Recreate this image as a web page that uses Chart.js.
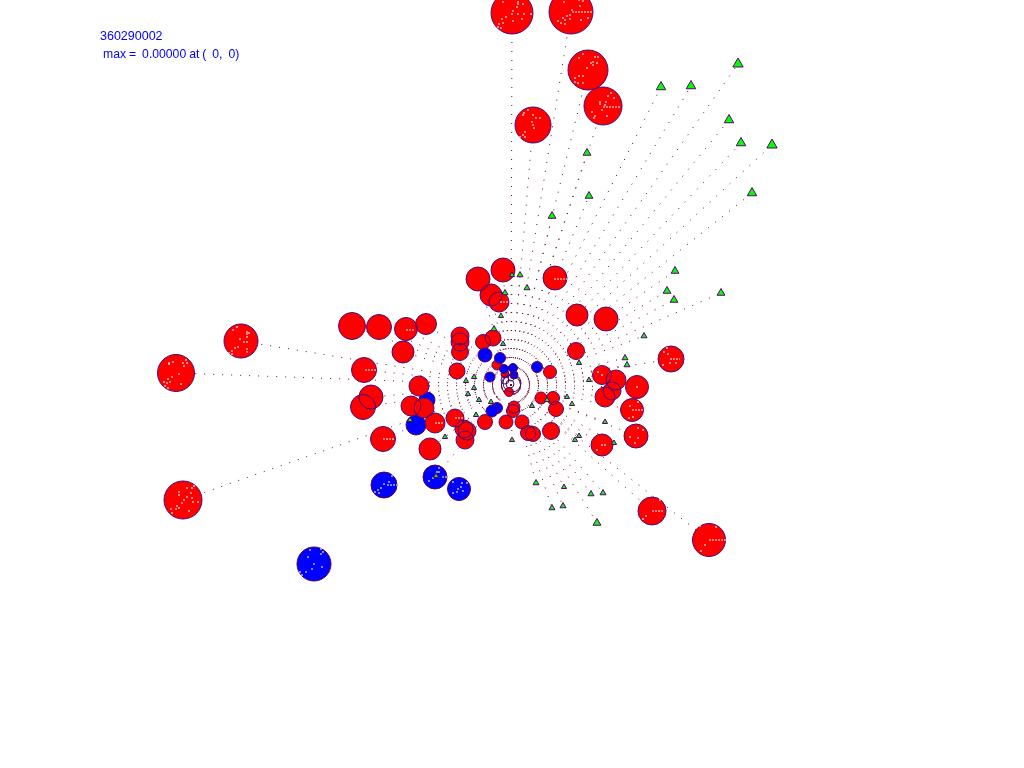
<!DOCTYPE html>
<html>
<head>
<meta charset="utf-8">
<title>360290002</title>
<script src="https://cdn.jsdelivr.net/npm/chart.js@4"></script>
<style>
    body { margin: 0; background: #fff; }
    #grafico { position: absolute; left: 0; top: 0; }
    .rotulo { position: absolute; color: #0000ff; font: 12.5px "Liberation Sans", sans-serif; white-space: pre; }
</style>
</head>
<body>
<canvas id="grafico" width="1024" height="768"></canvas>
<div class="rotulo" style="left:100px;top:29px">360290002</div>
<div class="rotulo" style="left:103px;top:47px;font-size:12.2px;word-spacing:-0.4px">max =  0.00000 at (  0,  0)</div>
<script>
// Vertex of the event (all tracks start here)
const vertexX = 511;
const vertexY = 385;

// Red clusters
const redX = [512, 571, 588, 603, 533, 478, 503, 555, 491, 499, 577, 606, 352, 379, 406, 426, 460, 460, 460, 483, 493, 403, 364, 457, 371, 363, 419, 411, 424, 435, 455, 464, 467, 465, 383, 430, 485, 506, 522, 528, 533, 551, 576, 671, 602, 616, 637, 612, 605, 632, 636, 602, 652, 709, 241, 176, 183, 497, 505, 509, 541, 553, 556, 514, 513, 550];
const redY = [13, 12, 70, 106, 125, 279, 270, 278, 295, 302, 315, 319, 326, 327, 329, 324, 336, 342, 352, 342, 338, 352, 370, 371, 397, 407, 386, 406, 408, 423, 418, 429, 431, 440, 439, 449, 422, 422, 422, 433, 434, 431, 351, 359, 375, 380, 387, 391, 397, 410, 436, 445, 511, 540, 341, 373, 500, 365, 374, 392, 398, 398, 409, 407, 411, 372];
const redR = [21, 22, 20, 19, 18, 12, 12, 12, 11, 10, 11, 12, 13.5, 12.5, 11.5, 10.5, 9, 9, 8.5, 7.5, 8, 11, 12.5, 8, 12, 12.5, 10, 10, 10, 10, 9, 9, 9, 9, 12.5, 11, 7.5, 7, 7, 7.5, 7.5, 8.5, 8.5, 13, 9.5, 10, 11.5, 9, 10, 11.5, 12, 11, 14, 16.5, 17, 18.5, 19, 5, 4, 4.5, 6, 6.5, 7.5, 6, 6.5, 6.5];

// Blue clusters, outer ones lie under the red
const blueX = [314, 384, 435, 459, 427, 416];
const blueY = [564, 485, 477, 489, 400, 425];
const blueR = [17, 13, 12, 11.5, 8, 10];

// Blue clusters near the vertex lie on top
const innerBlueX = [485, 500, 504, 513, 490, 537, 514, 497, 492];
const innerBlueY = [355, 358, 369, 368, 377, 367, 375, 408, 411];
const innerBlueR = [7, 5.5, 4.5, 4.5, 5, 5.5, 4, 5.5, 6];

// Open rings around the vertex
const ringX = [512, 510, 505, 511];
const ringY = [383, 384, 380, 378];
const ringR = [9, 4, 4, 3];

// Green triangles
const triX = [738, 661, 691, 729, 741, 772, 587, 752, 589, 552, 520, 675, 527, 667, 721, 505, 501, 494, 503, 627, 625, 445, 536, 564, 591, 603, 563, 597, 552, 614, 674, 644, 579, 605, 579, 575, 589, 466, 474, 474, 468, 479, 476, 512, 547, 567, 572, 491, 532, 436, 410, 512];
const triY = [64, 87, 86, 120, 143, 145, 153, 193, 196, 216, 275, 271, 288, 291, 293, 293, 316, 329, 344, 365, 358, 437, 483, 487, 494, 493, 506, 523, 508, 443, 300, 336, 363, 422, 436, 440, 380, 381, 377, 388, 394, 400, 415, 440, 400, 397, 404, 402, 406, 476, 420, 275];
const triR = [6, 5.5, 5.5, 5.5, 5.5, 6, 4.5, 5.5, 4.5, 4.5, 3.5, 4.5, 3.5, 4.5, 4.5, 3.5, 3, 3.5, 3, 3.5, 3.5, 3, 3.5, 3, 3.5, 3.5, 3.5, 4.5, 3.5, 3, 4.5, 3.5, 3, 3, 3, 3, 3, 3, 3, 3, 3, 3, 3, 3, 3, 3, 3, 3, 3, 3, 3, 3];

// White specks inside the clusters
const speckX = [169, 173, 169, 183, 186, 187, 184, 179, 172, 168, 164, 170, 167, 165, 168, 181, 233, 237, 247, 249, 247, 247, 240, 244, 247, 238, 235, 232, 229, 247, 247, 232, 187, 192, 194, 179, 179, 191, 187, 192, 184, 182, 177, 193, 198, 179, 176, 171, 189, 172, 611, 608, 614, 600, 606, 600, 605, 592, 595, 602, 594, 607, 310, 321, 323, 308, 321, 314, 322, 312, 300, 306, 302, 392, 389, 384, 381, 378, 375, 379, 439, 437, 439, 433, 429, 453, 462, 467, 461, 458, 463, 457, 453, 503, 518, 518, 523, 517, 513, 512, 518, 524, 531, 506, 502, 513, 522, 499, 503, 498, 501, 564, 579, 583, 580, 572, 570, 567, 563, 558, 565, 570, 561, 565, 588, 581, 583, 579, 595, 598, 593, 591, 597, 587, 593, 579, 575, 583, 575, 578, 583, 528, 524, 523, 533, 540, 536, 532, 533, 534, 525, 523, 525, 520, 667, 664, 668, 670, 663, 676, 637, 630, 638, 633, 629, 638, 643, 630, 638, 635, 602, 605, 597, 602, 598, 700, 716, 705, 694, 701, 660, 646, 643];
const speckY = [363, 362, 364, 363, 360, 363, 366, 374, 377, 379, 382, 382, 383, 386, 388, 384, 330, 327, 332, 333, 334, 337, 339, 342, 342, 347, 348, 351, 353, 349, 352, 354, 488, 488, 486, 492, 495, 493, 497, 498, 500, 503, 506, 502, 502, 508, 509, 509, 511, 513, 93, 96, 98, 102, 102, 104, 105, 112, 116, 110, 118, 116, 550, 549, 552, 557, 554, 564, 567, 569, 572, 572, 575, 476, 482, 484, 488, 490, 492, 493, 468, 472, 472, 478, 481, 482, 483, 483, 487, 489, 491, 492, 493, 2, 2, 4, 4, 7, 11, 14, 14, 14, 14, 17, 19, 21, 19, 24, 23, 27, 28, 2, 0, 1, 6, 10, 15, 16, 18, 21, 20, 19, 23, 24, 18, 20, 54, 58, 57, 57, 62, 63, 63, 68, 65, 76, 78, 76, 82, 83, 83, 110, 113, 115, 115, 118, 118, 122, 125, 128, 132, 135, 137, 137, 348, 352, 354, 363, 365, 363, 387, 406, 402, 417, 418, 428, 430, 437, 438, 443, 445, 445, 450, 375, 372, 526, 527, 545, 552, 551, 500, 516, 519];

// White horizontal dashes, one per cluster: start, end and height
const dashStartX = [709, 652, 554, 383, 365, 406, 455, 435, 670, 632, 500, 603, 572, 442, 387];
const dashEndX = [726, 664, 567, 395, 377, 415, 463, 443, 680, 643, 509, 620, 592, 451, 397];
const dashY = [540, 511, 279, 439, 370, 330, 418, 423, 359, 410, 302, 107, 12, 477, 485];

const corBorda = '#4b0a78';
const corBordaAzul = '#5a0050';
const corBordaTri = '#5a006e';
const corTraco = '#6e0038';

function pontos(xs, ys, rs) {
    return xs.map((x, i) => ({ x: x, y: ys[i], r: rs[i] }));
}

// Dotted track from the vertex out to each cluster
function tracos(xs, ys) {
    return xs.map((x, i) => ({
        type: 'line',
        order: 10,
        data: [{ x: vertexX, y: vertexY }, { x: x, y: ys[i] }],
        borderColor: corTraco,
        borderWidth: 1,
        borderDash: [1, 8],
        pointRadius: 0,
        fill: false
    }));
}

function tracinhos() {
    return dashStartX.map((x, i) => ({
        type: 'line',
        order: 0,
        data: [{ x: x, y: dashY[i] }, { x: dashEndX[i], y: dashY[i] }],
        borderColor: '#ffffff',
        borderWidth: 1,
        borderDash: [2, 1],
        pointRadius: 0,
        fill: false
    }));
}

const ctx = document.getElementById('grafico').getContext('2d');
new Chart(ctx, {
    type: 'bubble',
    data: {
        datasets: [
            ...tracos(redX, redY),
            ...tracos(triX, triY),
            { order: 5, data: pontos(blueX, blueY, blueR), backgroundColor: '#0000ff', borderColor: corBordaAzul, borderWidth: 1 },
            { order: 4, data: pontos(redX, redY, redR), backgroundColor: '#ff0000', borderColor: '#ff0000', borderWidth: 0 },
            { order: 3, data: pontos(redX, redY, redR), backgroundColor: 'rgba(0,0,0,0)', borderColor: corBorda, borderWidth: 1 },
            { order: 2, data: pontos(innerBlueX, innerBlueY, innerBlueR), backgroundColor: '#0000ff', borderColor: corBordaAzul, borderWidth: 1 },
            { order: 1, data: pontos(ringX, ringY, ringR), backgroundColor: 'rgba(0,0,0,0)', borderColor: corBorda, borderWidth: 1 },
            { order: 1, type: 'scatter', data: speckX.map((x, i) => ({ x: x, y: speckY[i] })), pointStyle: 'rect', pointRadius: 1, backgroundColor: '#ffffff', borderWidth: 0 },
            ...tracinhos(),
            { order: -1, type: 'scatter', data: pontos(triX, triY, triR), pointStyle: 'triangle', pointRadius: triR, backgroundColor: '#00ff00', borderColor: corBordaTri, borderWidth: 1 }
        ]
    },
    options: {
        responsive: false,
        animation: false,
        layout: { autoPadding: false, padding: 0 },
        plugins: { legend: { display: false }, tooltip: { enabled: false } },
        scales: {
            x: { type: 'linear', display: false, min: 0, max: 1024 },
            y: { type: 'linear', display: false, min: 0, max: 768, reverse: true }
        }
    }
});
</script>
</body>
</html>
